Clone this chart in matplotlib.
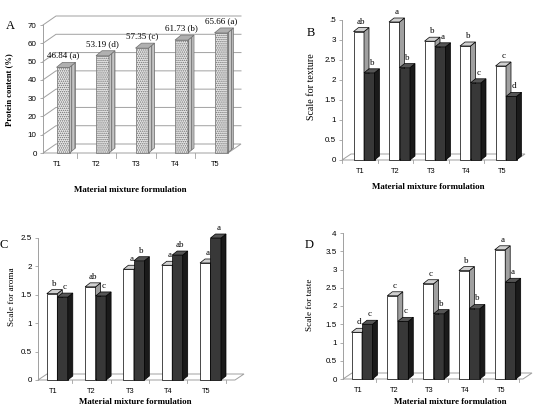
import numpy as np
import matplotlib
matplotlib.use("Agg")
import matplotlib.pyplot as plt
from matplotlib.patches import Polygon

W, H = 533, 417
SERIF = "Liberation Serif"
SANS = "Liberation Sans"

categories = ["T1", "T2", "T3", "T4", "T5"]

# panel A
protein = [46.84, 53.19, 57.35, 61.73, 65.66]
protein_letters = ["a", "d", "c", "b", "a"]

# panel B
texture_white = [3.21, 3.45, 2.97, 2.85, 2.35]
texture_dark = [2.18, 2.31, 2.83, 1.93, 1.59]
texture_white_letters = ["ab", "a", "b", "b", "c"]
texture_dark_letters = ["b", "b", "a", "c", "d"]

# panel C
aroma_white = [1.52, 1.64, 1.95, 2.02, 2.06]
aroma_dark = [1.46, 1.48, 2.10, 2.20, 2.50]
aroma_white_letters = ["b", "ab", "a", "a", "a"]
aroma_dark_letters = ["c", "c", "b", "ab", "a"]

# panel D
taste_white = [1.28, 2.28, 2.61, 2.97, 3.54]
taste_dark = [1.50, 1.58, 1.79, 1.93, 2.65]
taste_white_letters = ["d", "c", "c", "b", "a"]
taste_dark_letters = ["c", "c", "b", "b", "a"]

fig = plt.figure(figsize=(W / 100, H / 100), dpi=100)


def fx(x):
    return x / W


def fy(y):
    return 1 - y / H


def make_axes(left, right, y0, ytop, ymax, cat0, sp):
    ax = fig.add_axes([fx(left), fy(y0), (right - left) / W, (y0 - ytop) / H])
    ax.set_xlim((left - cat0) / sp, (right - cat0) / sp)
    ax.set_ylim(0, ymax)
    for s in ["top", "right", "bottom"]:
        ax.spines[s].set_visible(False)
    ax.spines["left"].set_color("#a0a0a0")
    ax.spines["left"].set_linewidth(0.7)
    ax.patch.set_visible(False)
    ax.tick_params(axis="y", length=2.5, width=0.6, color="#a0a0a0",
                   labelsize=5.8, pad=2)
    ax.set_xticks(range(len(categories)))
    ax.set_xticklabels(categories)
    ax.tick_params(axis="x", length=0, labelsize=5.3, pad=6)
    for lab in ax.get_xticklabels() + ax.get_yticklabels():
        lab.set_fontfamily(SANS)
    # pixel -> data unit factors
    ux = (ax.get_xlim()[1] - ax.get_xlim()[0]) / (right - left)
    uy = ymax / (y0 - ytop)
    return ax, ux, uy


def floor(ax, fdx, fdy):
    x0, x1 = ax.get_xlim()
    ax.add_patch(Polygon([(x0, 0), (x1, 0), (x1 + fdx, fdy), (x0 + fdx, fdy)],
                         closed=True, fc="white", ec="#a0a0a0", lw=0.7,
                         clip_on=False, zorder=1))
    # small ticks between categories on the front edge
    for b in np.arange(-0.5, len(categories), 1.0):
        if x0 < b < x1:
            ax.plot([b, b], [0, -fdy * 0.5], color="#a0a0a0", lw=0.6,
                    clip_on=False, zorder=1)


def bar3d(ax, xs, hs, w, ddx, ddy, front, side, top, hatch=None, edge="black"):
    bars = ax.bar(xs, hs, w, color=front, edgecolor=edge, linewidth=0.5,
                  hatch=hatch, zorder=3, clip_on=False)
    for rect in bars:
        xl = rect.get_x()
        xr = xl + rect.get_width()
        h = rect.get_height()
        ax.add_patch(Polygon([(xr, 0), (xr + ddx, ddy), (xr + ddx, h + ddy), (xr, h)],
                             closed=True, fc=side, ec=edge, lw=0.5,
                             hatch=("|||||" if hatch else None),
                             clip_on=False, zorder=3))
        ax.add_patch(Polygon([(xl, h), (xl + ddx, h + ddy), (xr + ddx, h + ddy), (xr, h)],
                             closed=True, fc=top, ec=edge, lw=0.5,
                             clip_on=False, zorder=3))
    return bars


def letters(ax, xs, hs, labs, ddx, ddy):
    for x, h, t in zip(xs, hs, labs):
        ax.annotate(t, (x + ddx / 2, h + ddy), xytext=(0, 1.5),
                    textcoords="offset points", ha="center", va="bottom",
                    fontsize=6.5, fontfamily=SERIF, zorder=5,
                    annotation_clip=False)


def paired_panel(left, right, y0, ytop, ymax, cat0, sp, white, dark,
                 wl, dl, ticks, ticklabels):
    ax, ux, uy = make_axes(left, right, y0, ytop, ymax, cat0, sp)
    ax.set_yticks(ticks)
    ax.set_yticklabels(ticklabels)
    floor(ax, 9 * ux, 6 * uy)
    w = 10.5 * ux
    off = 4 * ux
    ddx, ddy = 5 * ux, 4 * uy
    xw = np.arange(len(categories)) + off - w / 2
    xd = np.arange(len(categories)) + off + w / 2
    for i in range(len(categories)):
        bar3d(ax, [xw[i]], [white[i]], w, ddx, ddy, "white", "#a0a0a0", "#d0d0d0")
        bar3d(ax, [xd[i]], [dark[i]], w, ddx, ddy, "#383838", "#1a1a1a", "#555555")
    letters(ax, xw, white, wl, ddx, ddy)
    letters(ax, xd, dark, dl, ddx, ddy)
    return ax


# ---------------- panel A ----------------
plt.rcParams["hatch.linewidth"] = 0.7
axA, uxA, uyA = make_axes(43, 228, 153, 25, 70, 57, 39.5)
axA.set_yticks(range(0, 71, 10))
fdx, fdy = 13 * uxA, 9 * uyA
floor(axA, fdx, fdy)
x0, x1 = axA.get_xlim()
for v in range(10, 71, 10):
    axA.plot([x0, x0 + fdx, x1 + fdx], [v, v + fdy, v + fdy], color="#a0a0a0",
             lw=0.7, clip_on=False, zorder=1)
wA = 13 * uxA
ddxA, ddyA = 6 * uxA, 5 * uyA
xA = np.arange(len(categories)) + 6 * uxA
bar3d(axA, xA, protein, wA, ddxA, ddyA, "#e8e8e8", "#c4c4c4", "#b0b0b0",
      hatch="........", edge="#707070")
for x, h, t in zip(xA, protein, protein_letters):
    axA.annotate(f"{h:.2f} ({t})", (x, h + ddyA), xytext=(0, 2),
                 textcoords="offset points", ha="center", va="bottom",
                 fontsize=6.5, fontfamily=SERIF, annotation_clip=False, zorder=5)

# ---------------- panel B ----------------
paired_panel(342, 516, 160, 20, 3.5, 360, 35.5, texture_white, texture_dark,
             texture_white_letters, texture_dark_letters,
             np.arange(0, 3.51, 0.5), ["0", "0.5", "1", "1.5", "2", "2.5", "3", ".5"])

# ---------------- panel C ----------------
paired_panel(38, 235, 380, 238, 2.5, 53.3, 38.3, aroma_white, aroma_dark,
             aroma_white_letters, aroma_dark_letters,
             np.arange(0, 2.51, 0.5), ["0", "0.5", "1", "1.5", "2", "2.5"])

# ---------------- panel D ----------------
paired_panel(343, 523, 379, 233, 4, 358, 35.8, taste_white, taste_dark,
             taste_white_letters, taste_dark_letters,
             np.arange(0, 4.01, 0.5), ["0", "0.5", "1", "1.5", "2", "2.5", "3", "3.5", "4"])

# titles, axis labels
xlab = "Material mixture formulation"
fig.text(fx(130), fy(190), xlab, ha="center", va="center", fontsize=6.4,
         fontweight="bold", fontfamily=SERIF)
fig.text(fx(428), fy(187), xlab, ha="center", va="center", fontsize=6.4,
         fontweight="bold", fontfamily=SERIF)
fig.text(fx(135), fy(402), xlab, ha="center", va="center", fontsize=6.4,
         fontweight="bold", fontfamily=SERIF)
fig.text(fx(450), fy(402), xlab, ha="center", va="center", fontsize=6.4,
         fontweight="bold", fontfamily=SERIF)

fig.text(fx(9), fy(90), "Protein content (%)", rotation=90, ha="center",
         va="center", fontsize=6.2, fontweight="bold", fontfamily=SERIF)
fig.text(fx(311), fy(87), "Scale for texture", rotation=90, ha="center",
         va="center", fontsize=7.2, fontfamily=SERIF)
fig.text(fx(12), fy(297), "Scale for aroma", rotation=90, ha="center",
         va="center", fontsize=6.6, fontfamily=SERIF)
fig.text(fx(310), fy(305), "Scale for taste", rotation=90, ha="center",
         va="center", fontsize=6.6, fontfamily=SERIF)

for t, x, y in [("A", 10, 26), ("B", 311, 33), ("C", 4, 245), ("D", 309, 245)]:
    fig.text(fx(x), fy(y), t, ha="center", va="center", fontsize=9,
             fontfamily=SERIF)

fig.savefig("out.png", dpi=100)
